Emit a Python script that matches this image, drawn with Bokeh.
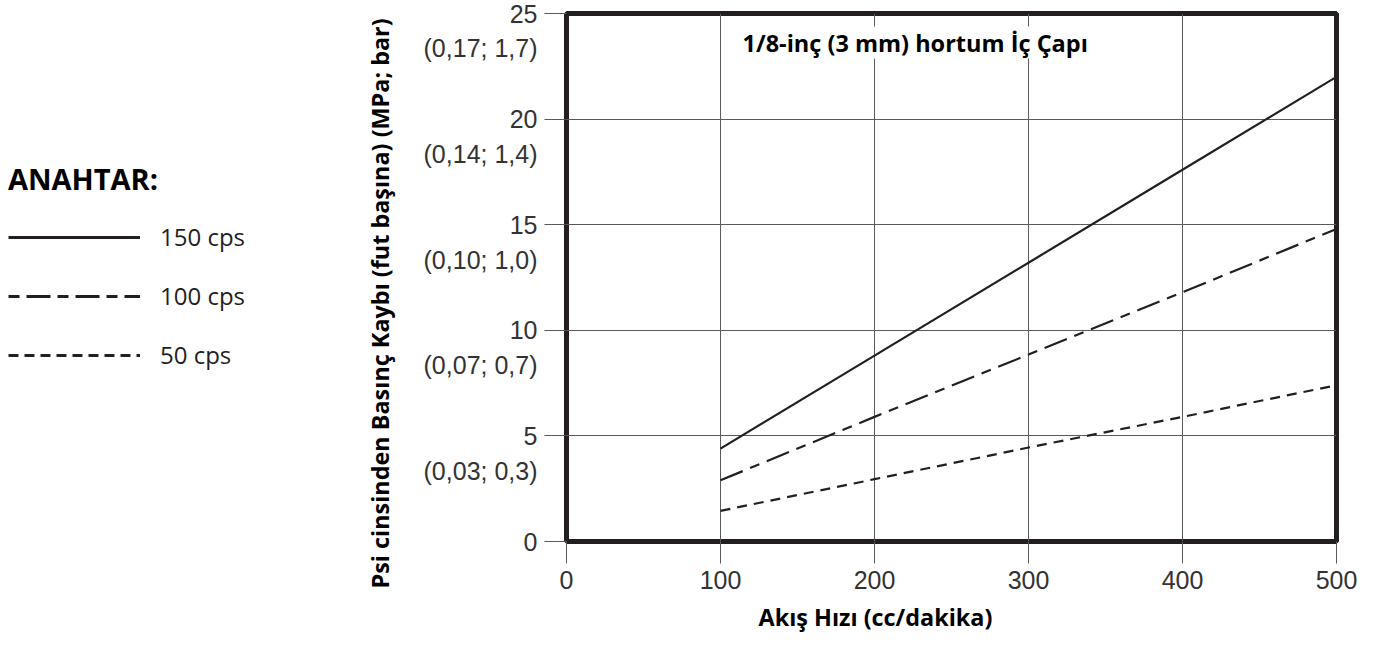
from bokeh.plotting import figure
from bokeh.models import Range1d, FixedTicker, Label, Legend, LegendItem, Title
from bokeh.layouts import row
from bokeh.embed import file_html
from bokeh.resources import INLINE

# ---------------- data ----------------
flow = [100, 200, 300, 400, 500]            # Akış Hızı (cc/dakika)
loss_150 = [4.4, 8.8, 13.2, 17.6, 22.0]     # psi per ft
loss_100 = [2.9, 5.9, 8.85, 11.8, 14.8]
loss_50 = [1.45, 2.95, 4.45, 5.9, 7.4]
series_labels = ["150 cps", "100 cps", "50 cps"]

x_ticks = [0, 100, 200, 300, 400, 500]
y_ticks = [0, 5, 10, 15, 20, 25]
y_ticks_metric = ["", "(0,03; 0,3)", "(0,07; 0,7)", "(0,10; 1,0)", "(0,14; 1,4)", "(0,17; 1,7)"]

title_text = "1/8-inç (3 mm) hortum İç Çapı"
x_title = "Akış Hızı (cc/dakika)"
y_title = "Psi cinsinden Basınç Kaybı (fut başına) (MPa; bar)"
legend_title = "ANAHTAR:"

# ---------------- styles ----------------
INK = "#231f20"
GRID = "#5a5a5a"
TICKTXT = "#333333"
chart_dashes = ["solid", "24 8 10 8", "10 7"]
legend_dashes = ["solid", "11 7 24 7", "10 6"]
METRIC_DROP = 1.65   # metric label sits this far (in psi units) below its psi tick

# ---------------- main chart ----------------
H = 640
p = figure(width=1106, height=H, x_range=Range1d(0, 500), y_range=Range1d(0, 25),
           output_backend="svg", toolbar_location=None,
           min_border_left=306, min_border_right=30, min_border_top=13, min_border_bottom=99)
p.background_fill_color = "white"
p.border_fill_color = "white"
p.outline_line_color = INK
p.outline_line_width = 5

# y axis: psi labels at the ticks, metric labels just below each one
metric_pos = [v - METRIC_DROP for v, t in zip(y_ticks, y_ticks_metric) if t]
metric_txt = [t for t in y_ticks_metric if t]
overrides = {v: str(v) for v in y_ticks}
overrides.update({pos: t for pos, t in zip(metric_pos, metric_txt)})

p.xaxis.ticker = FixedTicker(ticks=x_ticks)
p.yaxis.ticker = FixedTicker(ticks=y_ticks + metric_pos, minor_ticks=y_ticks)
p.yaxis.major_label_overrides = overrides

for ax in (p.xaxis[0], p.yaxis[0]):
    ax.axis_line_color = None
    ax.major_tick_in = 0
    ax.major_tick_out = 22
    ax.major_tick_line_color = GRID
    ax.major_tick_line_width = 1
    ax.major_label_text_font = "Liberation Sans"
    ax.major_label_text_font_size = "25px"
    ax.major_label_text_color = TICKTXT
    ax.major_label_standoff = 7

# blank, tiny y-axis label: only widens the axis panel so the y title sits further out
p.yaxis.axis_label = " "
p.yaxis.axis_label_text_font_size = "1px"
p.yaxis.axis_label_standoff = 1

p.xaxis.minor_tick_line_color = None
p.yaxis.major_tick_line_color = None      # visible y ticks come from the minor set
p.yaxis.minor_tick_in = 0
p.yaxis.minor_tick_out = 22
p.yaxis.minor_tick_line_color = GRID
p.yaxis.minor_tick_line_width = 1

p.xgrid.ticker = FixedTicker(ticks=x_ticks)
p.ygrid.ticker = FixedTicker(ticks=y_ticks)
p.grid.grid_line_color = GRID
p.grid.grid_line_width = 1

for ys, dash in zip([loss_150, loss_100, loss_50], chart_dashes):
    p.line(flow, ys, line_color=INK, line_width=2.2, line_dash=dash)

# axis titles
p.add_layout(Title(text=y_title, align="left", offset=-47, standoff=40,
                   text_font="Open Sans", text_font_style="bold", text_font_size="23.4px",
                   text_color="black"), "left")
p.add_layout(Title(text=x_title, align="left", offset=192, standoff=15,
                   text_font="Open Sans", text_font_style="bold", text_font_size="23.4px",
                   text_color="black"), "below")

# inner title with white backing
p.add_layout(Label(x=0, y=25, x_offset=176, y_offset=-29, text=title_text,
                   text_align="left", text_baseline="alphabetic",
                   text_font="Open Sans", text_font_style="bold", text_font_size="23.5px",
                   text_color="black", background_fill_color="white"))

# ---------------- legend panel ----------------
lf = figure(width=260, height=H, x_range=Range1d(0, 1), y_range=Range1d(0, 1),
            output_backend="svg", toolbar_location=None, x_axis_type=None, y_axis_type=None,
            min_border_left=0, min_border_right=0, min_border_top=13, min_border_bottom=99)
lf.outline_line_color = None
lf.grid.visible = False
lf.background_fill_color = "white"
lf.border_fill_color = "white"

items = []
for ys, dash, lab in zip([loss_150, loss_100, loss_50], legend_dashes, series_labels):
    r = lf.line(flow, ys, line_color=INK, line_width=3, line_dash=dash)
    items.append(LegendItem(label=lab, renderers=[r]))

legend = Legend(items=items, title=legend_title, location=(8, 170),
                margin=0, padding=0, spacing=26, glyph_width=132, glyph_height=32,
                label_height=32, label_standoff=20,
                label_text_font="Open Sans", label_text_font_size="24px", label_text_color=INK,
                title_text_font="Open Sans", title_text_font_style="bold",
                title_text_font_size="29px", title_text_color="black", title_standoff=22,
                border_line_color=None, background_fill_alpha=0)
lf.add_layout(legend)

layout = row(lf, p)
open("out.html", "w").write(file_html(layout, INLINE))
